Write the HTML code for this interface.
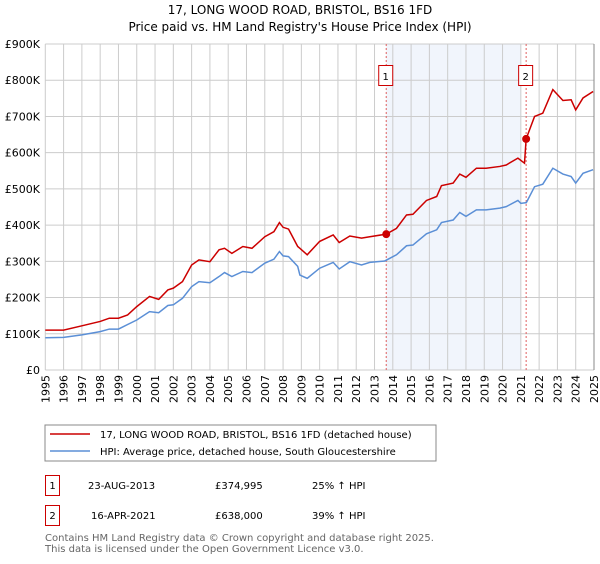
<!DOCTYPE html>
<html><head><meta charset="utf-8"><style>
body{margin:0;background:#fff;font-family:"DejaVu Sans","Liberation Sans",sans-serif}
</style></head><body>
<svg width="600" height="560" xmlns="http://www.w3.org/2000/svg" font-family="DejaVu Sans, Liberation Sans, sans-serif">
<text x="300" y="14" font-size="12" text-anchor="middle">17, LONG WOOD ROAD, BRISTOL, BS16 1FD</text>
<text x="300" y="31" font-size="12" text-anchor="middle">Price paid vs. HM Land Registry's House Price Index (HPI)</text>
<g id="plot"></g>
<rect x="45" y="425" width="391" height="36" fill="#fff" stroke="#888"/>
<line x1="50" y1="434" x2="90" y2="434" stroke="#cc0000" stroke-width="1.5"/>
<text x="100" y="438" font-size="10">17, LONG WOOD ROAD, BRISTOL, BS16 1FD (detached house)</text>
<line x1="50" y1="451" x2="90" y2="451" stroke="#5b8fd6" stroke-width="1.5"/>
<text x="100" y="455" font-size="10">HPI: Average price, detached house, South Gloucestershire</text>
<g font-size="10">
<rect x="45.5" y="475.5" width="14" height="20" fill="#fff" stroke="#cc0000"/>
<text x="52.5" y="489" text-anchor="middle">1</text>
<text x="88" y="489">23-AUG-2013</text>
<text x="215" y="489">£374,995</text>
<text x="312" y="489">25% ↑ HPI</text>
<rect x="45.5" y="505.5" width="14" height="20" fill="#fff" stroke="#cc0000"/>
<text x="52.5" y="519" text-anchor="middle">2</text>
<text x="91" y="519">16-APR-2021</text>
<text x="215" y="519">£638,000</text>
<text x="312" y="519">39% ↑ HPI</text>
</g>
<text x="45" y="541" font-size="10" fill="#666">Contains HM Land Registry data © Crown copyright and database right 2025.</text>
<text x="45" y="552" font-size="10" fill="#666">This data is licensed under the Open Government Licence v3.0.</text>
</svg>
<script>
const yTicks=[0,100000,200000,300000,400000,500000,600000,700000,800000,900000];
const yTickLabels=["£0","£100K","£200K","£300K","£400K","£500K","£600K","£700K","£800K","£900K"];
const xYears=[1995,1996,1997,1998,1999,2000,2001,2002,2003,2004,2005,2006,2007,2008,2009,2010,2011,2012,2013,2014,2015,2016,2017,2018,2019,2020,2021,2022,2023,2024,2025];
const hpiT=[1995,1996,1997,1998,1998.5,1999,2000,2000.7,2001.2,2001.7,2002,2002.5,2003,2003.4,2004,2004.5,2004.8,2005.2,2005.8,2006.3,2007,2007.5,2007.8,2008,2008.3,2008.8,2008.92,2009.32,2010.0,2010.74,2011.07,2011.65,2012.29,2012.74,2013.56,2014.2,2014.75,2015.1,2015.84,2016.4,2016.66,2017.3,2017.66,2018.0,2018.57,2019.1,2019.85,2020.2,2020.84,2021.0,2021.3,2021.75,2022.2,2022.75,2023.3,2023.75,2024.0,2024.4,2024.95];
const hpiV=[89,90,97,106,113,113,138,161,158,178,180,198,230,244,241,258,269,258,272,269,295,306,327,315,313,286,262,253,281,297,279,299,290,297,301,318,343,345,376,387,407,414,435,424,442,442,447,451,468,460,462,506,513,557,541,534,516,543,553];
const priceT=[1995,1996,1997,1998,1998.5,1999,1999.5,2000,2000.7,2001.2,2001.7,2002,2002.5,2003,2003.4,2004,2004.5,2004.8,2005.2,2005.8,2006.3,2007,2007.5,2007.8,2008,2008.3,2008.8,2008.92,2009.32,2010.0,2010.74,2011.07,2011.65,2012.29,2012.74,2013.64,2014.2,2014.75,2015.1,2015.84,2016.4,2016.66,2017.3,2017.66,2018.0,2018.57,2019.1,2019.85,2020.2,2020.84,2021.2,2021.29,2021.75,2022.2,2022.75,2023.3,2023.75,2024.0,2024.4,2024.95];
const priceV=[110,110,122,134,143,143,152,175,203,195,221,226,244,290,304,299,332,336,322,341,336,368,382,407,394,389,341,336,318,355,373,352,370,364,368,375,391,428,430,468,479,509,516,541,532,557,557,562,566,585,571,638,700,709,774,744,746,718,751,769];
const saleT=[2013.64,2021.29];
const saleV=[374.995,638];
const saleLabels=["1","2"];
const NS="http://www.w3.org/2000/svg";
const L=45.3,R=594,T=44,B=370;
const xs=t=>L+(t-1995)/30*(R-L);
const ys=v=>B-v/900000*(B-T);
const g=document.getElementById('plot');
function mk(tag,attrs){const e=document.createElementNS(NS,tag);for(const k in attrs)e.setAttribute(k,attrs[k]);g.appendChild(e);return e;}
const shade=mk('rect',{x:xs(saleT[0]),y:T,width:xs(2021.0)-xs(saleT[0]),height:B-T,fill:'#edf2fb',opacity:0.8});


yTicks.forEach((v,i)=>{
 const l=mk('line',{x1:L,x2:R,y1:ys(v),y2:ys(v),stroke:'#ccc'});
 
 
 const t=mk('text',{x:40,y:ys(v)+4,'font-size':11,'text-anchor':'end'});t.textContent=yTickLabels[i];
 
 
});
xYears.forEach(y=>{
 const l=mk('line',{x1:xs(y),x2:xs(y),y1:T,y2:B,stroke:'#ccc'});
 
 
 const t=mk('text',{x:0,y:0,'font-size':11,'text-anchor':'end',transform:`translate(${xs(y)+4},375) rotate(-90)`});t.textContent=y;
 
 
});
const rb=mk('line',{x1:R,x2:R,y1:T,y2:B,stroke:'#888'});


saleT.forEach((t,i)=>{
 const l=mk('line',{x1:xs(t),x2:xs(t),y1:T,y2:B,stroke:'#e06060','stroke-dasharray':'2,2'});
 
 
 const r=mk('rect',{x:xs(t)-7.5,y:65.5,width:14,height:20,fill:'#fff',stroke:'#cc0000'});
 
 
 const tx=mk('text',{x:xs(t)-0.5,y:80,'font-size':10,'text-anchor':'middle'});tx.textContent=saleLabels[i];
 
 
});
const hp=mk('polyline',{points:hpiT.map((t,i)=>xs(t)+','+ys(hpiV[i]*1000)).join(' '),fill:'none',stroke:'#5b8fd6','stroke-width':1.5});


const pp=mk('polyline',{points:priceT.map((t,i)=>xs(t)+','+ys(priceV[i]*1000)).join(' '),fill:'none',stroke:'#cc0000','stroke-width':1.5});


saleT.forEach((t,i)=>{
 const c=mk('circle',{cx:xs(t),cy:ys(saleV[i]*1000),r:4,fill:'#cc0000'});
 
 
});
</script>
</body></html>
